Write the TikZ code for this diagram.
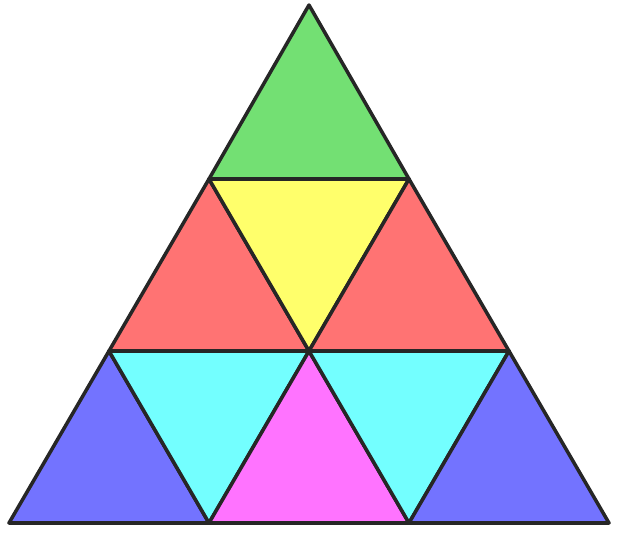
\documentclass[tikz,border=0pt]{standalone}
\usepackage{tikz}
\usetikzlibrary{calc}
\definecolor{tgreen}{RGB}{115,224,115}
\definecolor{tyellow}{RGB}{255,255,107}
\definecolor{tred}{RGB}{255,115,115}
\definecolor{tcyan}{RGB}{115,255,255}
\definecolor{tblue}{RGB}{115,115,255}
\definecolor{tmagenta}{RGB}{255,115,255}
\tikzset{tri/.style={draw=black!85,line width=1pt,line join=round}}
\begin{document}
\begin{tikzpicture}[x=0.01cm,y=0.01cm]
\useasboundingbox (0,0) rectangle (623,541);
\coordinate (top) at (309,536); % apex
\coordinate (a1) at (209,362); \coordinate (a2) at (409,362); % first row
\coordinate (b1) at (109,190); \coordinate (b2) at (309,190); \coordinate (b3) at (509,190); % second row
\coordinate (c1) at (9,18); \coordinate (c2) at (209,18); \coordinate (c3) at (409,18); \coordinate (c4) at (609,18); % base
\filldraw[tri,fill=tgreen](top)--(a1)--(a2)--cycle; % top
\filldraw[tri,fill=tred](a1)--(b1)--(b2)--cycle; % middle left
\filldraw[tri,fill=tyellow](a1)--(a2)--(b2)--cycle; % middle
\filldraw[tri,fill=tred](a2)--(b2)--(b3)--cycle; % middle right
\filldraw[tri,fill=tblue](b1)--(c1)--(c2)--cycle; % bottom
\filldraw[tri,fill=tcyan](b1)--(b2)--(c2)--cycle;
\filldraw[tri,fill=tmagenta](b2)--(c2)--(c3)--cycle;
\filldraw[tri,fill=tcyan](b2)--(b3)--(c3)--cycle;
\filldraw[tri,fill=tblue](b3)--(c3)--(c4)--cycle;
\end{tikzpicture}
\end{document}
